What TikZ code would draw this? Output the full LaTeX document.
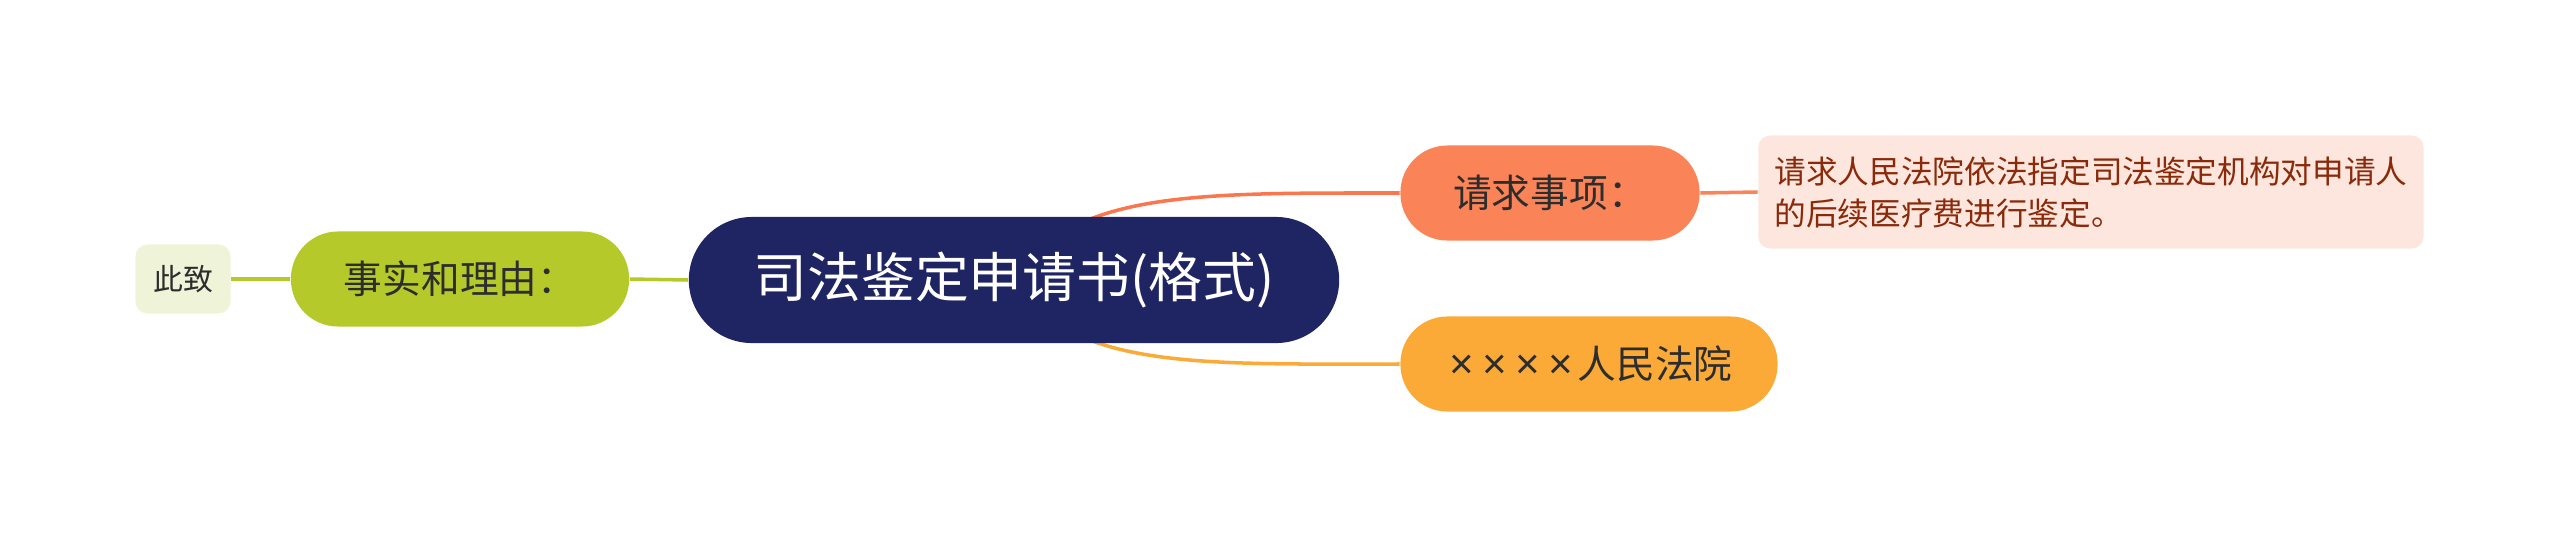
\documentclass[tikz,border=0pt]{standalone}
\usepackage{fontspec}
\setmainfont{Noto Sans CJK SC}
\newfontfamily\latin{Liberation Sans}
\usepackage{tikz}
\usetikzlibrary{calc, backgrounds}

\definecolor{navy}{HTML}{1F2462}
\definecolor{salmon}{HTML}{FA8357}
\definecolor{salmonlight}{HTML}{FDE6DD}
\definecolor{rust}{HTML}{8A2A0A}
\definecolor{amber}{HTML}{FBAA38}
\definecolor{lime}{HTML}{B5CA2A}
\definecolor{limelight}{HTML}{EFF4D8}
\definecolor{txtdark}{HTML}{2D2D2D}

\newcommand{\xmark}{{\latin\kern0.1em×\kern0.1em}}

\begin{document}
\begin{tikzpicture}[x=0.01cm, y=-0.01cm,
    pill/.style={rounded corners=0.47cm, minimum height=0.95cm, inner sep=0pt,
        text=txtdark, font=\fontsize{11}{13}\selectfont},
    link/.style={line width=1pt}]
        \useasboundingbox (0,0) rectangle (2560,548);

        \node[fill=navy, text=white, rounded corners=0.63cm, minimum width=6.5cm,
            minimum height=1.26cm, inner sep=0pt, font=\fontsize{15.3}{18}\selectfont]
            (root) at (1014,280) {司法鉴定申请书(格式)};

        \node[pill, fill=lime, minimum width=3.38cm] (facts) at (460,279) {事实和理由：};
        \node[fill=limelight, rounded corners=0.12cm, minimum width=0.95cm,
            minimum height=0.69cm, inner sep=0pt, text=txtdark,
            font=\fontsize{8.5}{10}\selectfont] (close) at (183,279) {此致};

        \node[pill, fill=salmon, minimum width=2.99cm] (claim) at (1550,193) {请求事项：};
        \node[fill=salmonlight, rounded corners=0.12cm, minimum width=6.65cm,
            minimum height=1.13cm, inner sep=0pt, text=rust, align=left,
            font=\fontsize{9}{12}\selectfont] (detail) at (2091,192)
            {请求人民法院依法指定司法鉴定机构对申请人\\的后续医疗费进行鉴定。};

        \node[pill, fill=amber, minimum width=3.77cm] (court) at (1589,364)
            {{\fontsize{12}{13}\selectfont\xmark\xmark\xmark\xmark}人民法院};

        \begin{scope}[on background layer]
        \draw[link, lime] (close.east) -- (facts.west);
        \draw[link, lime] (facts.east) -- (root.west);
        \draw[link, salmon!90!red] (root.center) .. controls (1070,190) and (1200,193) .. (claim.west);
        \draw[link, salmon] (claim.east) -- (detail.west);
        \draw[link, amber] (root.center) .. controls (1070,370) and (1200,364) .. (court.west);
        \end{scope}
    \end{tikzpicture}
\end{document}
